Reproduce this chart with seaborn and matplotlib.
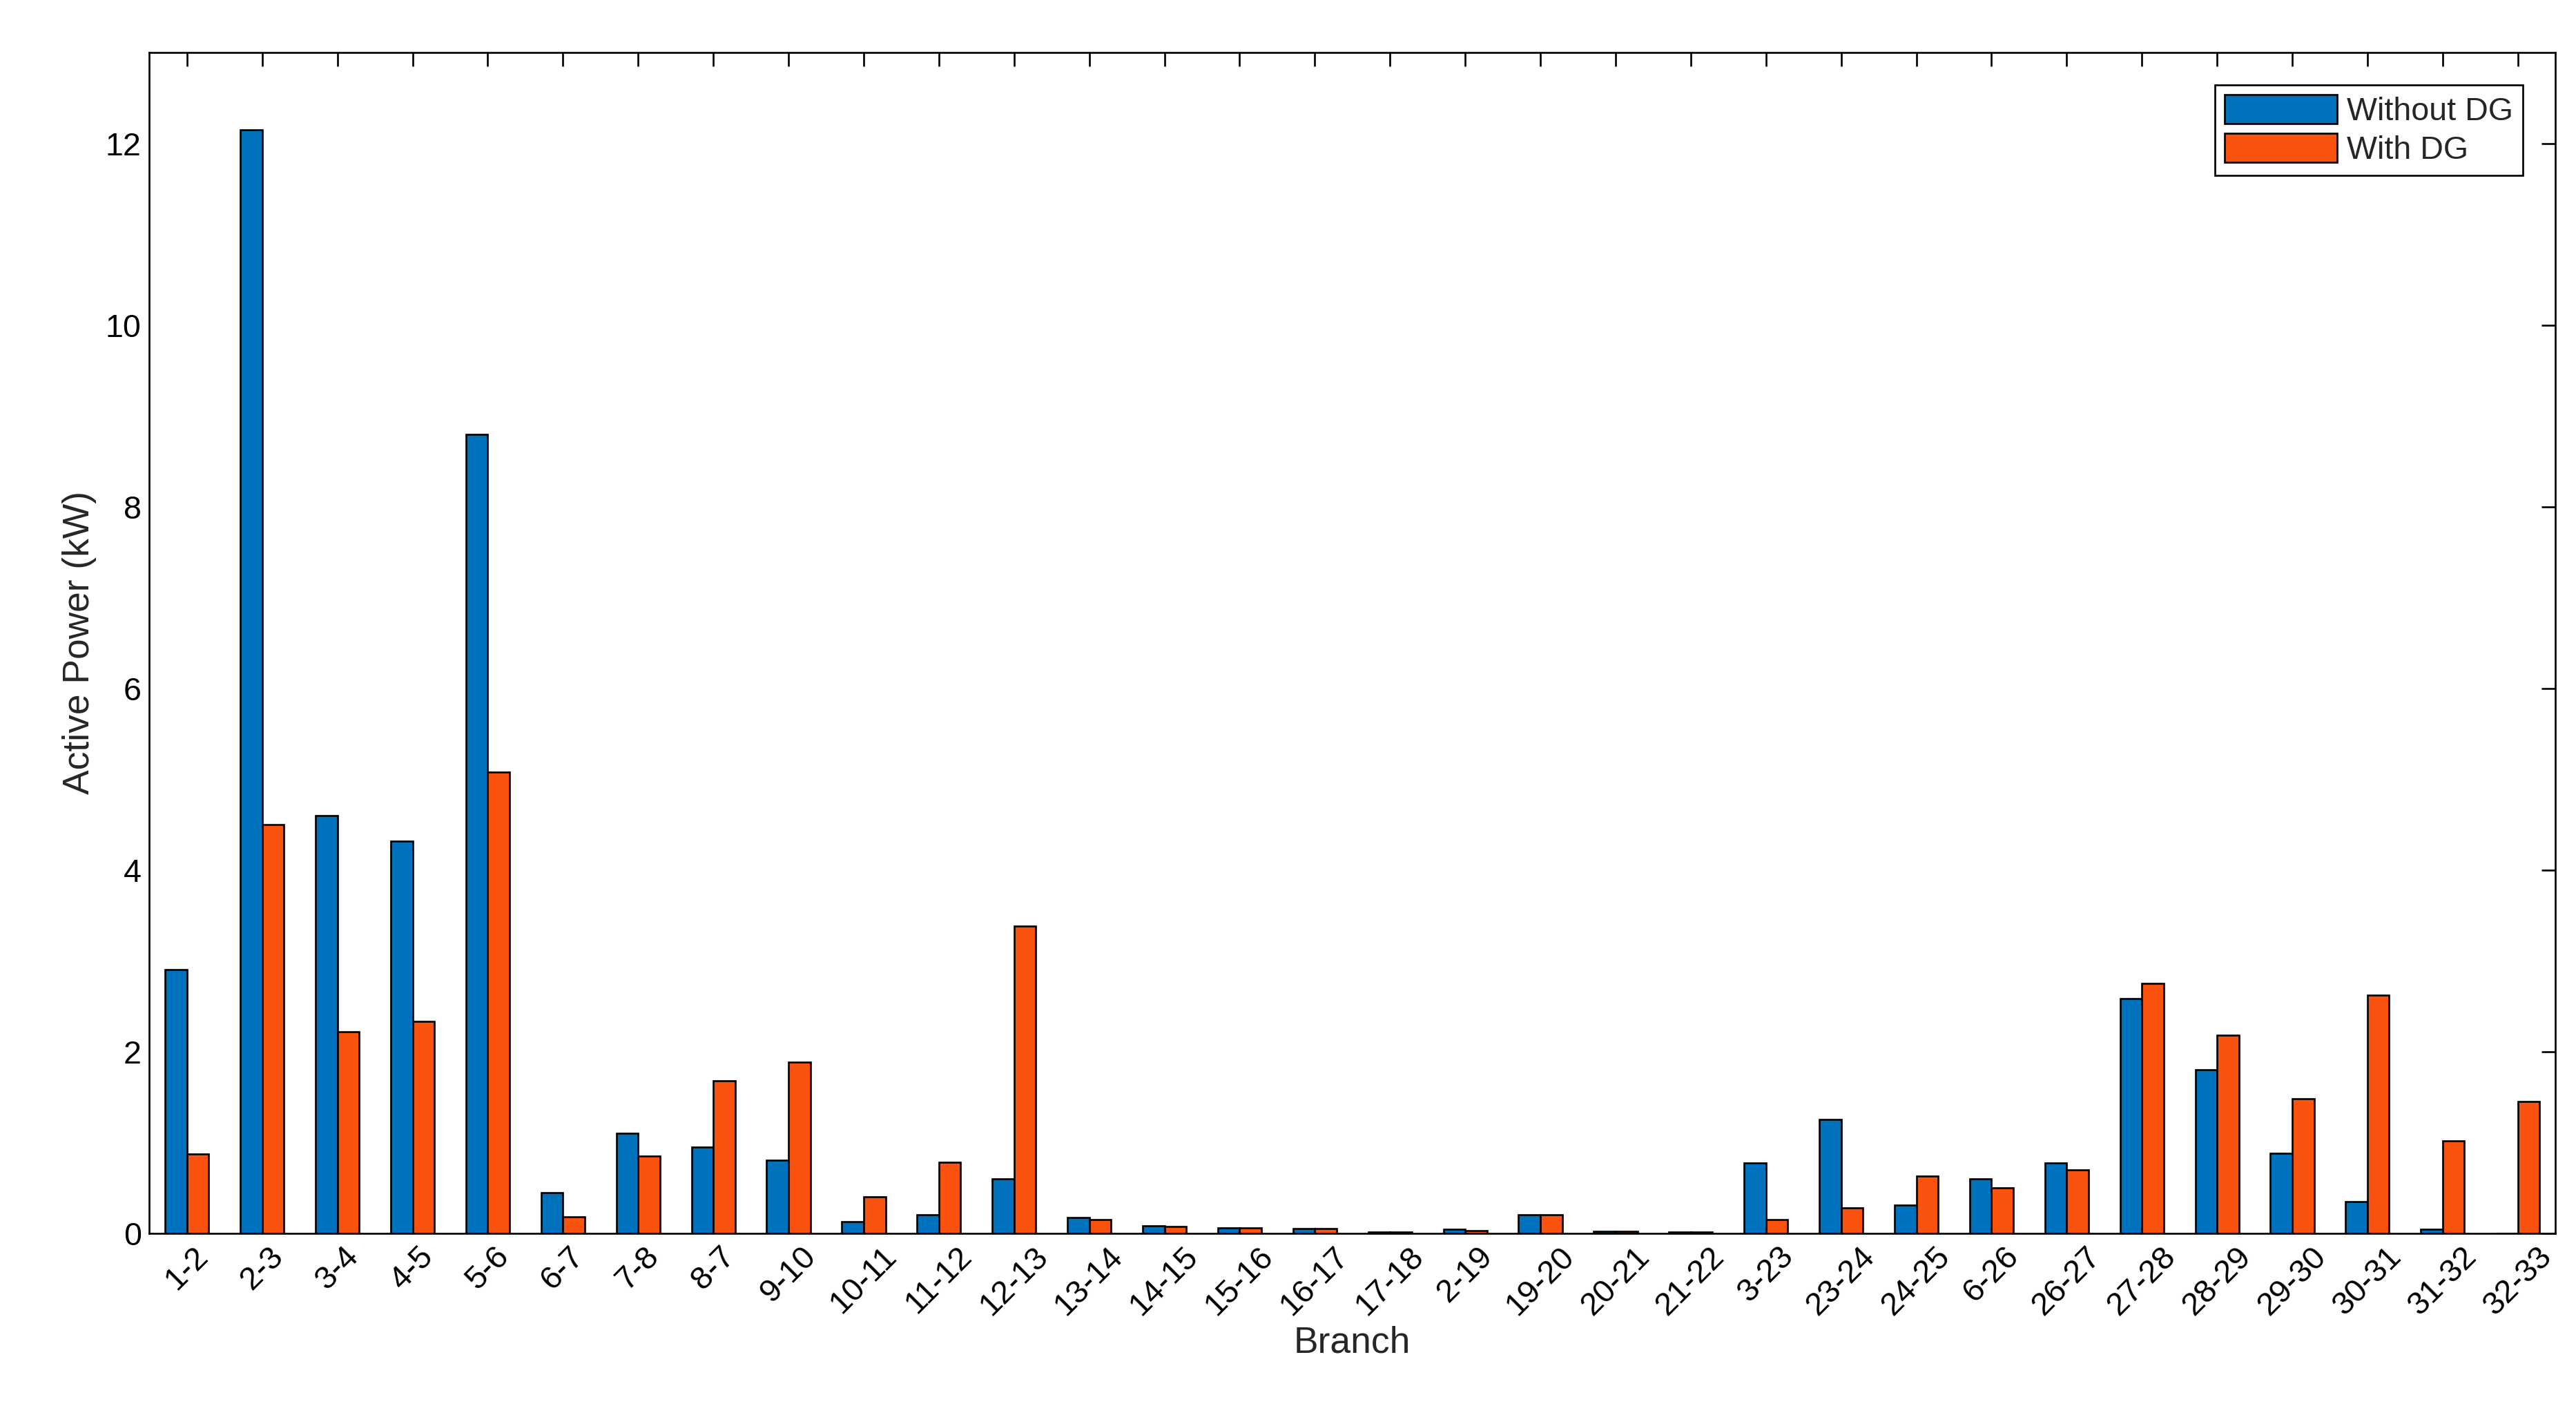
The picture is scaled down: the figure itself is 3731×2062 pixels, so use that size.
import pandas as pd
import matplotlib.pyplot as plt
import seaborn as sns

branches = ['1-2', '2-3', '3-4', '4-5', '5-6', '6-7', '7-8', '8-7', '9-10', '10-11',
            '11-12', '12-13', '13-14', '14-15', '15-16', '16-17', '17-18', '2-19', '19-20',
            '20-21', '21-22', '3-23', '23-24', '24-25', '6-26', '26-27', '27-28', '28-29',
            '29-30', '30-31', '31-32', '32-33']
without_dg = [2.9, 12.15, 4.6, 4.32, 8.8, 0.45, 1.1, 0.95, 0.8, 0.13,
              0.2, 0.6, 0.17, 0.08, 0.06, 0.05, 0.01, 0.04, 0.2,
              0.02, 0.01, 0.77, 1.25, 0.31, 0.6, 0.77, 2.58, 1.8,
              0.88, 0.35, 0.04, 0.0]
with_dg = [0.87, 4.5, 2.22, 2.33, 5.08, 0.18, 0.85, 1.68, 1.88, 0.4,
           0.78, 3.38, 0.15, 0.07, 0.06, 0.05, 0.01, 0.03, 0.2,
           0.02, 0.01, 0.15, 0.28, 0.63, 0.5, 0.7, 2.75, 2.18,
           1.48, 2.62, 1.02, 1.45]

df = pd.DataFrame({'Branch': branches * 2,
                   'Power': without_dg + with_dg,
                   'Case': ['Without DG'] * len(branches) + ['With DG'] * len(branches)})

sns.set_style('white')
plt.rcParams['font.family'] = ['Liberation Sans', 'DejaVu Sans']

fig = plt.figure(figsize=(3731 / 240, 2062 / 240), dpi=240)
ax = fig.add_axes([0.058, 0.134, 0.934, 0.829])
sns.barplot(data=df, x='Branch', y='Power', hue='Case', ax=ax, width=0.58,
            palette=['#0072BD', '#F9530F'], edgecolor='black', linewidth=0.8,
            saturation=1)

ax.set_xlim(-0.5, len(branches) - 0.5)
ax.set_ylim(0, 13)
ax.set_yticks([0, 2, 4, 6, 8, 10, 12])
ax.set_xlabel('Branch', fontsize=16, labelpad=2)
ax.set_ylabel('Active Power (kW)', fontsize=16)
ax.tick_params(axis='both', direction='in', top=True, right=True, length=6,
               width=0.8, labelsize=14, colors='black')
plt.setp(ax.get_xticklabels(), rotation=45, ha='center')
for s in ax.spines.values():
    s.set_color('black')
    s.set_linewidth(0.8)

leg = ax.legend(loc='upper right', fontsize=14, fancybox=False, framealpha=1,
                edgecolor='black', handlelength=3.5, handleheight=1.0,
                borderaxespad=1.0, labelspacing=0.2, handletextpad=0.3,
                borderpad=0.3)
leg.get_frame().set_linewidth(0.8)

fig.savefig('out.png', dpi=240)
